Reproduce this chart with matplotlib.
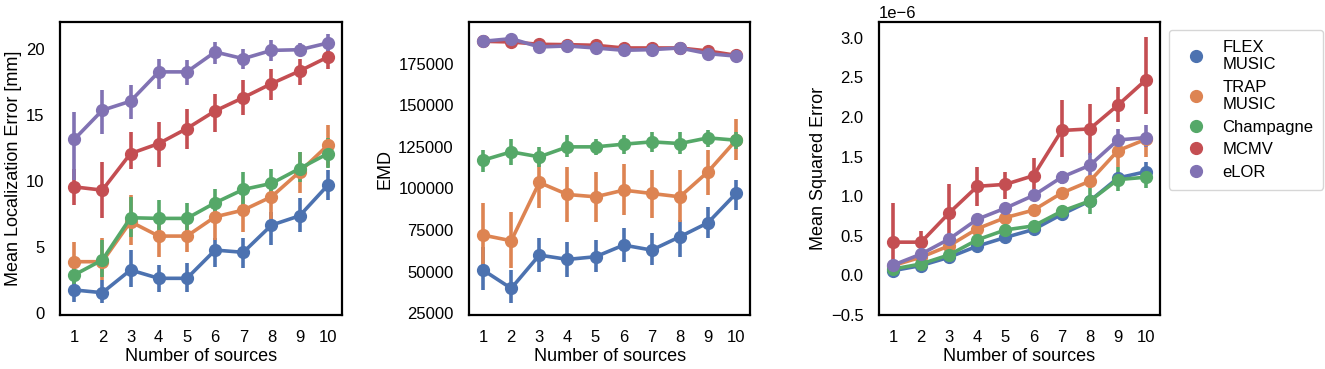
import numpy as np
import matplotlib
matplotlib.use("Agg")
import matplotlib.pyplot as plt
from matplotlib.lines import Line2D

plt.rcParams['font.family'] = ['Liberation Sans', 'DejaVu Sans']

methods = ["FLEX\nMUSIC", "TRAP\nMUSIC", "Champagne", "MCMV", "eLOR"]
colors = ["#4C72B0", "#DD8452", "#55A868", "#C44E52", "#8172B3"]
n_sources = [1, 2, 3, 4, 5, 6, 7, 8, 9, 10]

# mean localization error [mm]: mean, lower, upper
mle_mean = [
    [1.77, 1.56, 3.28, 2.65, 2.65, 4.79, 4.62, 6.68, 7.39, 9.71],
    [3.91, 3.91, 6.94, 5.85, 5.85, 7.31, 7.82, 8.83, 10.72, 12.74],
    [2.90, 4.04, 7.24, 7.19, 7.19, 8.37, 9.38, 9.84, 10.97, 12.10],
    [9.58, 9.33, 12.10, 12.86, 14.00, 15.33, 16.34, 17.40, 18.36, 19.42],
    [13.17, 15.38, 16.07, 18.29, 18.29, 19.80, 19.29, 19.92, 19.97, 20.48],
]
mle_lo = [
    [0.88, 0.76, 2.02, 1.64, 1.64, 3.53, 3.40, 5.17, 6.18, 8.58],
    [2.52, 2.52, 5.17, 4.29, 4.67, 5.55, 6.18, 6.90, 9.10, 11.10],
    [1.77, 2.77, 5.80, 5.80, 5.80, 7.31, 8.00, 8.70, 9.97, 11.0],
    [8.20, 7.19, 10.97, 11.10, 12.48, 13.75, 15.00, 16.14, 17.28, 18.54],
    [10.09, 13.60, 14.75, 17.02, 17.28, 18.90, 18.50, 19.10, 19.50, 19.90],
]
mle_hi = [
    [2.77, 2.52, 4.79, 3.66, 3.79, 5.67, 5.67, 7.69, 8.70, 10.84],
    [5.42, 5.67, 8.95, 7.31, 7.19, 8.83, 9.10, 9.97, 12.23, 14.25],
    [4.04, 5.55, 8.83, 8.58, 8.33, 9.45, 10.72, 10.97, 12.23, 13.25],
    [10.97, 11.48, 13.75, 14.50, 15.50, 16.65, 17.65, 18.54, 19.29, 19.92],
    [15.26, 16.90, 17.28, 19.29, 19.16, 20.55, 20.05, 20.68, 20.45, 21.19],
]

# earth mover's distance
emd_mean = [
    [51000, 40000, 60000, 57400, 59000, 66000, 63000, 71000, 79400, 97000],
    [72000, 68600, 103600, 96400, 95000, 99000, 97000, 95000, 110000, 129000],
    [117000, 122000, 119000, 125000, 125000, 126600, 128000, 127000, 130400, 129000],
    [188400, 188000, 186600, 186400, 186000, 184400, 184400, 184400, 182600, 180000],
    [188400, 190000, 185000, 185600, 184400, 183000, 183400, 184400, 181000, 179500],
]
emd_lo = [
    [39000, 31000, 50000, 47000, 50000, 56000, 54000, 59000, 70000, 87000],
    [53000, 52000, 88000, 80000, 80000, 84000, 82000, 80000, 96000, 117000],
    [110000, 114000, 113000, 119000, 120000, 121000, 122000, 121000, 125000, 124000],
    [187000, 186600, 185200, 185000, 184600, 183000, 183000, 183000, 181200, 178600],
    [187000, 188600, 183600, 184200, 183000, 181600, 182000, 183000, 179600, 178100],
]
emd_hi = [
    [65000, 51000, 70000, 68000, 69000, 76000, 73000, 81000, 89000, 105000],
    [91000, 86000, 117000, 113000, 110000, 115000, 111000, 111000, 123000, 142000],
    [123000, 130000, 125000, 132000, 130000, 132000, 134000, 134000, 135000, 134000],
    [189800, 189400, 188000, 187800, 187400, 185800, 185800, 185800, 184000, 181400],
    [189800, 191400, 186400, 187000, 185800, 184400, 184800, 185800, 182400, 180900],
]

# mean squared error (x1e-6)
mse_mean = [
    [0.06, 0.125, 0.23, 0.37, 0.48, 0.58, 0.77, 0.94, 1.23, 1.31],
    [0.125, 0.23, 0.375, 0.59, 0.73, 0.825, 1.04, 1.19, 1.575, 1.72],
    [0.08, 0.145, 0.26, 0.45, 0.575, 0.625, 0.81, 0.94, 1.21, 1.24],
    [0.42, 0.42, 0.79, 1.125, 1.15, 1.26, 1.83, 1.85, 2.15, 2.47],
    [0.13, 0.27, 0.46, 0.71, 0.85, 1.01, 1.24, 1.39, 1.71, 1.74],
]
mse_lo = [
    [0.03, 0.09, 0.19, 0.33, 0.44, 0.54, 0.72, 0.88, 1.16, 1.19],
    [0.09, 0.19, 0.33, 0.54, 0.68, 0.77, 0.97, 1.11, 1.375, 1.50],
    [0.05, 0.11, 0.22, 0.40, 0.52, 0.57, 0.74, 0.78, 1.06, 1.10],
    [0.03, 0.25, 0.42, 0.875, 0.96, 1.06, 1.50, 1.52, 1.94, 2.04],
    [0.09, 0.22, 0.40, 0.65, 0.79, 0.94, 1.16, 1.25, 1.56, 1.625],
]
mse_hi = [
    [0.09, 0.16, 0.27, 0.41, 0.52, 0.62, 0.82, 1.00, 1.30, 1.43],
    [0.16, 0.27, 0.42, 0.64, 0.78, 0.88, 1.11, 1.27, 1.67, 1.79],
    [0.11, 0.18, 0.30, 0.50, 0.63, 0.68, 0.88, 1.10, 1.375, 1.375],
    [0.92, 0.56, 1.15, 1.375, 1.31, 1.48, 2.22, 2.17, 2.38, 3.01],
    [0.17, 0.32, 0.52, 0.77, 0.91, 1.08, 1.32, 1.54, 1.85, 1.90],
]

fig = plt.figure(figsize=(13.25, 3.69), dpi=100)
ax1 = fig.add_axes([0.0453, 0.1463, 0.2128, 0.7941])
ax2 = fig.add_axes([0.3540, 0.1463, 0.2121, 0.7941])
ax3 = fig.add_axes([0.6634, 0.1463, 0.2121, 0.7941])

x = np.arange(len(n_sources))


def draw(ax, means, los, his, scale=1.0):
    for m, lo, hi, c in zip(means, los, his, colors):
        m = np.array(m) * scale
        lo = np.array(lo) * scale
        hi = np.array(hi) * scale
        ax.errorbar(x, m, yerr=[m - lo, hi - m], fmt='-o', color=c,
                    ms=8.5, lw=2.6, elinewidth=2.6, capsize=0)
    ax.set_xticks(x)
    ax.set_xticklabels([str(n) for n in n_sources])
    ax.set_xlim(-0.5, 9.5)
    ax.set_xlabel("Number of sources", fontsize=13, labelpad=2)
    ax.tick_params(labelsize=12, length=0, pad=11)
    for s in ax.spines.values():
        s.set_color('black')
        s.set_linewidth(1.6)


draw(ax1, mle_mean, mle_lo, mle_hi)
ax1.set_ylim(-0.13, 22.07)
ax1.set_yticks([0, 5, 10, 15, 20])
ax1.set_ylabel("Mean Localization Error [mm]", fontsize=13, labelpad=3)

draw(ax2, emd_mean, emd_lo, emd_hi)
ax2.set_ylim(24000, 200000)
ax2.set_yticks([25000, 50000, 75000, 100000, 125000, 150000, 175000])
ax2.set_ylabel("EMD", fontsize=13, labelpad=3)

draw(ax3, mse_mean, mse_lo, mse_hi, scale=1e-6)
ax3.set_ylim(-0.48e-6, 3.2e-6)
ax3.set_yticks(np.arange(-0.5, 3.01, 0.5) * 1e-6)
ax3.set_ylabel("Mean Squared Error", fontsize=13, labelpad=3)
ax3.yaxis.get_offset_text().set_fontsize(12)

handles = [Line2D([], [], ls='none', marker='o', color=c, ms=8.5) for c in colors]
fig.legend(handles, methods, loc='upper left', bbox_to_anchor=(1169 / 1325, 1 - 30 / 369),
           fontsize=12, frameon=True, edgecolor='#cccccc', borderaxespad=0,
           handletextpad=0.6, labelspacing=0.45, borderpad=0.6)

fig.savefig("out.png", dpi=100)
